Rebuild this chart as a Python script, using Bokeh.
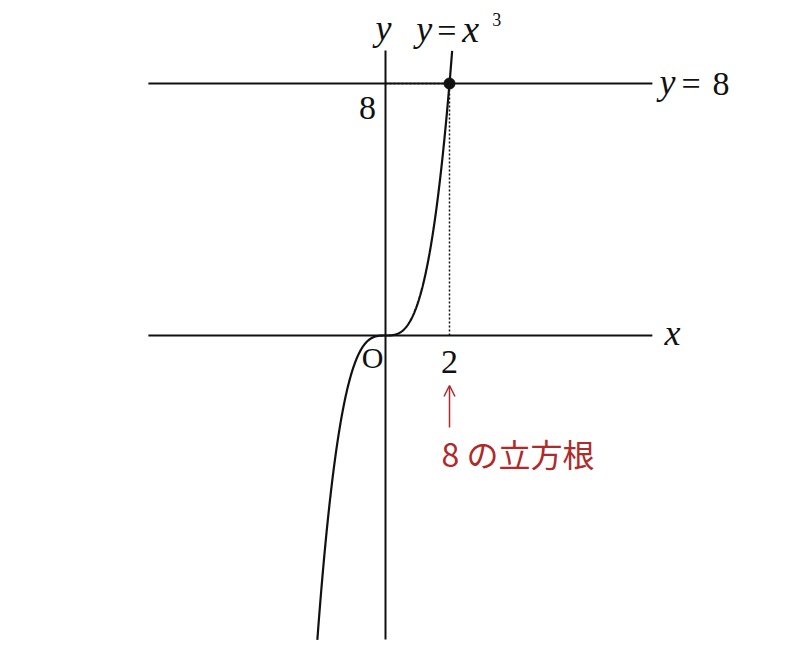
import numpy as np
from bokeh.plotting import figure
from bokeh.models import Arrow, OpenHead
from bokeh.core.properties import value
from bokeh.embed import file_html
from bokeh.resources import INLINE

# ---- data ----
x_axis_extent = [-7.41, 8.34]       # x-axis line extent
y_axis_extent = [-9.65, 9.05]       # y-axis line extent
hline_y = [8]                       # horizontal line y = 8
root_x = [2]                        # cube root of 8
root_y = [8]
curve_domain = [-2.13, 2.083]
curve_x = np.linspace(curve_domain[0], curve_domain[1], 500)
curve_y = curve_x ** 3              # y = x^3
tick_x_labels = ["2"]
tick_y_labels = ["8"]
jp_label = "8 の立方根"

# ---- scale / layout ----
PX_X = 32.0      # pixels per x unit
PX_Y = 31.5      # pixels per y unit
W, H = 784, 640
ox, oy = 385, 335   # origin in figure pixels

p = figure(width=W, height=H, output_backend="svg", toolbar_location=None,
           x_range=(-ox / PX_X, (W - ox) / PX_X),
           y_range=(-(H - oy) / PX_Y, oy / PX_Y),
           x_axis_type=None, y_axis_type=None, min_border=0)
p.grid.visible = False
p.outline_line_color = None
p.background_fill_color = "white"
p.border_fill_color = "white"

black = "#111111"
red = "#b02a2a"
serif = value("Liberation Serif")

# axes
p.line(x_axis_extent, [0, 0], line_color=black, line_width=2)
p.line([0, 0], y_axis_extent, line_color=black, line_width=2)
# y = 8 line
p.line(x_axis_extent, [hline_y[0]] * 2, line_color=black, line_width=2)
# dotted guides
p.line([0, root_x[0]], [root_y[0]] * 2, line_color=black, line_width=1.5, line_dash="2 2")
p.line([root_x[0]] * 2, [0, root_y[0]], line_color=black, line_width=1.5, line_dash="2 2")
# curve
p.line(curve_x, curve_y, line_color=black, line_width=2.2)
# point
p.scatter(root_x, root_y, size=11, fill_color=black, line_color=black)

def label(x, y, t, dx=0, dy=0, size="30px", style="normal", align="center",
          color=black, font=serif):
    p.text([x], [y], text=[t], x_offset=dx, y_offset=dy, text_font=font,
           text_font_size=size, text_font_style=style, text_align=align,
           text_baseline="middle", text_color=color)

# axis names
label(x_axis_extent[1], 0, "x", dx=12, dy=-3, size="36px", style="italic", align="left")
label(0, y_axis_extent[1], "y", dx=-2, dy=-22, size="36px", style="italic")
label(0, 0, "O", dx=-13, dy=22, size="30px")
label(0, hline_y[0], tick_y_labels[0], dx=-18, dy=24, size="34px")
label(root_x[0], 0, tick_x_labels[0], dx=0, dy=26, size="34px")

# y = x^3
cx, cy = curve_x[-1], curve_y[-1]
label(cx, cy, "y", dx=-36, dy=-22, size="36px", style="italic", align="left")
label(cx, cy, "=", dx=-15, dy=-20, size="34px", align="left")
label(cx, cy, "x", dx=10, dy=-22, size="38px", style="italic", align="left")
label(cx, cy, "3", dx=40, dy=-31, size="18px", align="left")
# y = 8
label(x_axis_extent[1], hline_y[0], "y", dx=7, dy=-2, size="36px", style="italic", align="left")
label(x_axis_extent[1], hline_y[0], "=", dx=29, dy=0, size="34px", align="left")
label(x_axis_extent[1], hline_y[0], "8", dx=60, dy=0, size="34px", align="left")

# arrow + japanese label
arrow_top = -50 / PX_Y
arrow_bot = -92 / PX_Y
p.add_layout(Arrow(end=OpenHead(size=11, line_color=red, line_width=1.5),
                   x_start=root_x[0], y_start=arrow_bot,
                   x_end=root_x[0], y_end=arrow_top,
                   line_color=red, line_width=1.5))
label(root_x[0], 0, jp_label, dx=-8, dy=117, size="32px", align="left",
      color=red, font=value("Noto Sans CJK JP"))

open("out.html", "w").write(file_html(p, INLINE))
